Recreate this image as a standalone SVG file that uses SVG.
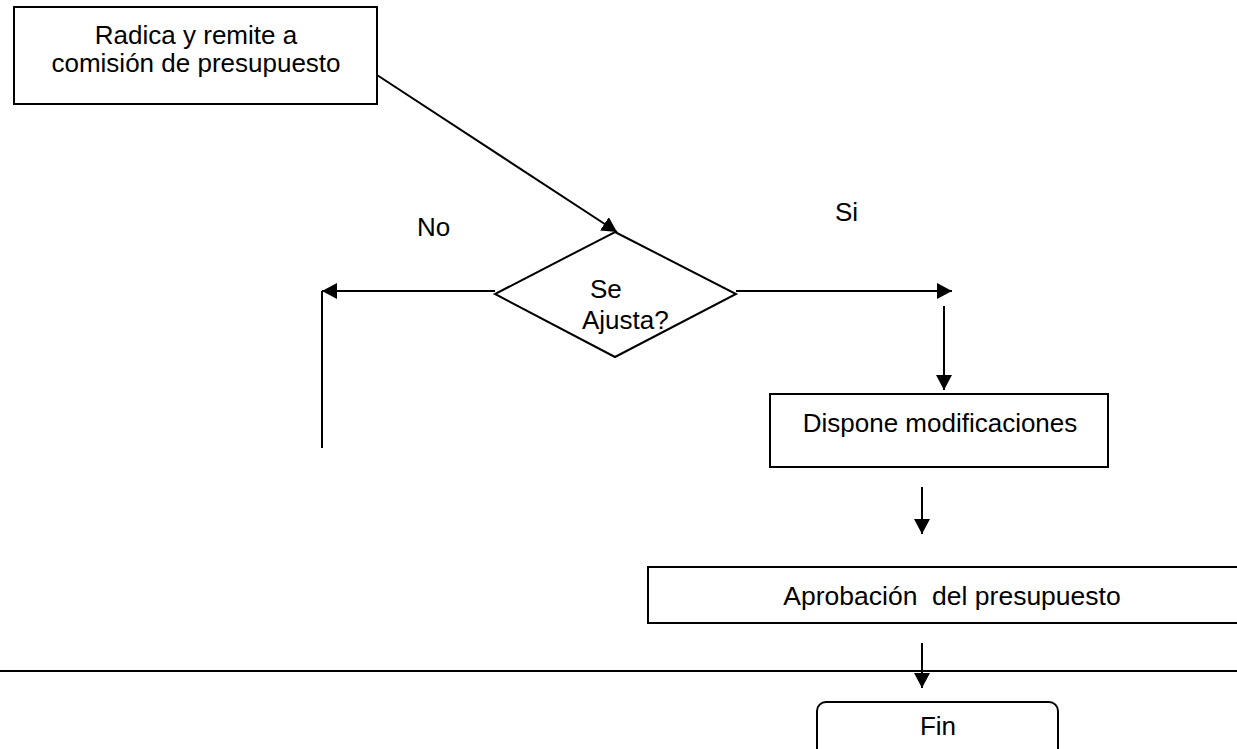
<svg xmlns="http://www.w3.org/2000/svg" width="1237" height="749" viewBox="0 0 1237 749">
  <style>
    .shape { fill: #ffffff; stroke: #000000; stroke-width: 2; }
    .line { fill: none; stroke: #000000; stroke-width: 2; }
    .arrow { fill: none; stroke: #000000; stroke-width: 2; marker-end: url(#head); }
    .label { font-family: "Liberation Sans", Arial, sans-serif; font-size: 26px; fill: #000000; }
    .mid { text-anchor: middle; }
  </style>
  <defs>
    <marker id="head" viewBox="0 0 15 16" refX="15" refY="8" markerWidth="15" markerHeight="16" markerUnits="userSpaceOnUse" orient="auto">
      <path d="M0,0 L15,8 L0,16 Z" fill="#000000"/>
    </marker>
  </defs>
  <rect width="1237" height="749" fill="#ffffff"/>

  <line class="line" x1="0" y1="671" x2="1237" y2="671"/>

  <g id="connectors">
    <line class="arrow" x1="377" y1="75" x2="617" y2="232"/>
    <line class="arrow" x1="495" y1="291" x2="322" y2="291"/>
    <line class="line" x1="322" y1="291" x2="322" y2="448"/>
    <line class="arrow" x1="736" y1="291" x2="952" y2="291"/>
    <line class="arrow" x1="944" y1="306" x2="944" y2="390"/>
    <line class="arrow" x1="922" y1="487" x2="922" y2="534"/>
    <line class="arrow" x1="922" y1="643" x2="922" y2="688"/>
  </g>

  <g id="radica">
    <rect class="shape" x="14" y="7" width="363" height="97"/>
    <text class="label mid" x="196" y="44">Radica y remite a</text>
    <text class="label mid" x="196" y="72">comisión de presupuesto</text>
  </g>

  <g id="decision">
    <polygon class="shape" points="615,232 736,294 615,357 495,294"/>
    <text class="label" x="590" y="298">Se</text>
    <text class="label" x="582" y="329">Ajusta?</text>
  </g>

  <g id="label-no">
    <text class="label" x="417" y="236">No</text>
  </g>
  <g id="label-si">
    <text class="label" x="835" y="221">Si</text>
  </g>

  <g id="dispone">
    <rect class="shape" x="770" y="394" width="338" height="73"/>
    <text class="label mid" x="940" y="432">Dispone modificaciones</text>
  </g>

  <g id="aprobacion">
    <rect class="shape" x="648" y="567" width="600" height="56"/>
    <text class="label mid" x="952" y="605" style="font-size:26.5px" xml:space="preserve">Aprobación  del presupuesto</text>
  </g>

  <g id="fin">
    <rect class="shape" x="817" y="702" width="241" height="70" rx="9" ry="9"/>
    <text class="label mid" x="938" y="735">Fin</text>
  </g>
</svg>
